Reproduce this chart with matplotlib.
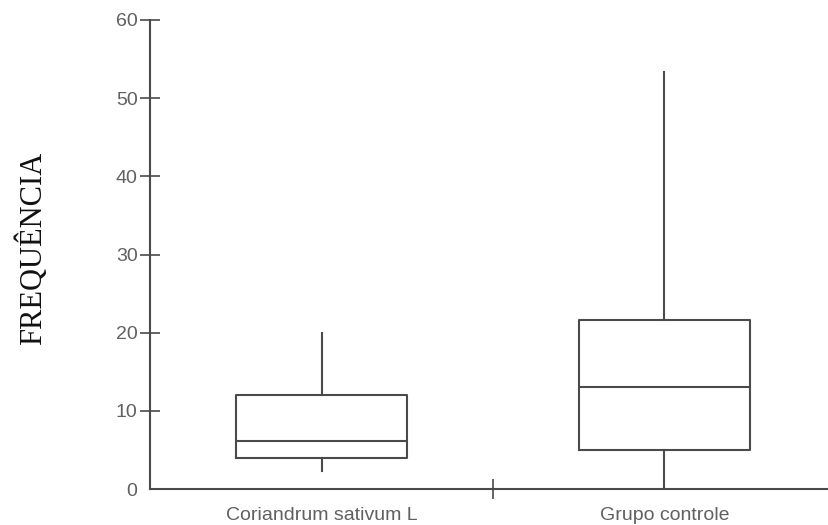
import matplotlib
matplotlib.use("Agg")
import matplotlib.pyplot as plt

# box plot summary
groups = ['Coriandrum sativum L', 'Grupo controle']
whis_low = [2.3, 0.0]
q1 = [4.0, 5.0]
median = [6.1, 13.0]
q3 = [12.0, 21.6]
whis_high = [20.0, 53.3]

line_col = '#4a4a4a'
text_col = '#606060'

fig = plt.figure(figsize=(8.29, 5.25), dpi=100)
ax = fig.add_axes([150 / 829, 36 / 525, 679 / 829, 469 / 525])

stats = []
for i, g in enumerate(groups):
    stats.append(dict(label=g, whislo=whis_low[i], q1=q1[i], med=median[i],
                      q3=q3[i], whishi=whis_high[i], fliers=[]))

positions = [0.5, 1.5]
ax.bxp(stats, positions=positions, widths=0.5, showcaps=False,
       boxprops=dict(color=line_col, lw=1.5),
       medianprops=dict(color=line_col, lw=1.5),
       whiskerprops=dict(color=line_col, lw=1.5),
       manage_ticks=False)

ax.set_xlim(0, 679 / 343)
ax.set_ylim(0, 60)

for s in ['top', 'right']:
    ax.spines[s].set_visible(False)
for s in ['left', 'bottom']:
    ax.spines[s].set_color(line_col)
    ax.spines[s].set_linewidth(1.5)

ax.set_yticks([0, 10, 20, 30, 40, 50, 60])
ax.tick_params(axis='y', direction='inout', length=14, width=1.2,
               color=line_col, labelcolor=text_col, labelsize=14, pad=2)
ax.yaxis.get_major_ticks()[0].tick1line.set_visible(False)
for lab in ax.get_yticklabels():
    lab.set_family('Liberation Sans')

ax.set_xticks(positions)
ax.set_xticklabels(groups, family='Liberation Sans')
ax.tick_params(axis='x', which='major', length=0, labelcolor=text_col,
               labelsize=14, pad=13)
ax.set_xticks([1.0], minor=True)
ax.tick_params(axis='x', which='minor', direction='inout', length=14,
               width=1.2, color=line_col)

fig.text(32 / 829, 1 - 248 / 525, 'FREQUÊNCIA', rotation=90,
         family='Liberation Serif', fontsize=22, color='#111111',
         ha='center', va='center')

fig.savefig('out.png', dpi=100)
